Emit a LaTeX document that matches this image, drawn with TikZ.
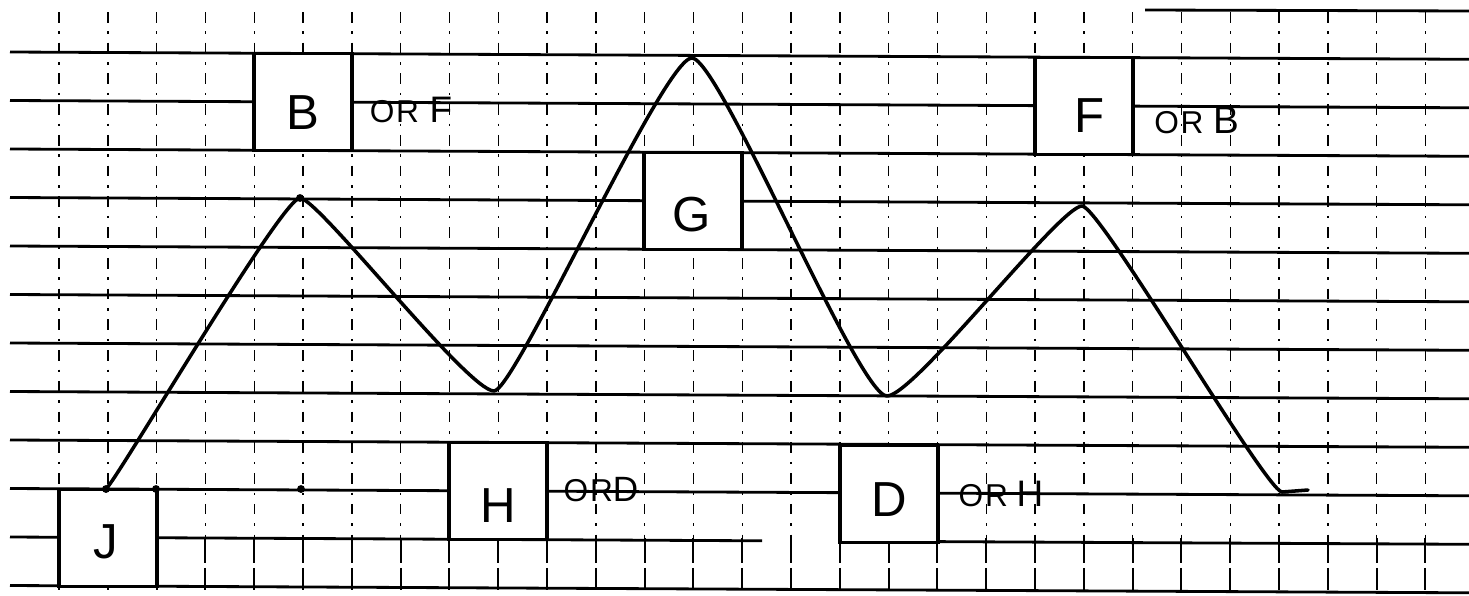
\documentclass[tikz,border=0pt]{standalone}
\usepackage{fontspec}
\setmainfont{Liberation Sans}
\usetikzlibrary{calc}
\begin{document}
\begin{tikzpicture}[x=0.02cm,y=-0.02cm,
  hline/.style={line width=1.6pt},
  vline/.style={line width=0.8pt, dash pattern=on 6pt off 5pt on 1.5pt off 5pt},
  vsolid/.style={line width=1.1pt, dash pattern=on 14pt off 3pt},
  box/.style={draw, fill=white, line width=2.2pt, minimum width=1.952cm, minimum height=1.94cm, inner sep=0pt},
  letter/.style={font=\fontsize{28}{30}\selectfont, inner sep=0pt},
  ortext/.style={font=\fontsize{18}{20}\selectfont, inner sep=0pt},
  wave/.style={line width=2pt, line join=round, line cap=round},
  dot/.style={circle, fill=black, inner sep=0pt, minimum size=4.5pt},
]
\useasboundingbox (0,0) rectangle (1469,595);
% vertical grid lines
\foreach \j in {0,...,28} {
  \pgfmathsetmacro{\xx}{59+48.8*\j}
  \draw[vline] (\xx,12) -- (\xx,538);
  \draw[vsolid] (\xx,538) -- (\xx,590);
}
% horizontal grid lines (slightly tilted)
\foreach \k in {0,...,9,11} {
  \pgfmathsetmacro{\ya}{52+48.5*\k}
  \pgfmathsetmacro{\yb}{\ya+7.3}
  \draw[hline] (10,\ya) -- (1469,\yb);
}
\draw[hline] (10,537) -- (762,540.8);
\draw[hline] (838,541.1) -- (1469,544.3);
\draw[hline] (1145,10) -- (1469,11);
% boxes
\node[box] (B) at (303,102) {};
\node[box] (F) at (1084,106) {};
\node[box] (G) at (693,201) {};
\node[box] (H) at (498,491) {};
\node[box] (D) at (889,494) {};
\node[box] (J) at (108,538) {};
% letters
\node[letter] (Bt) at ($(B.center)+(0,11)$) {B};
\node[letter] (Ft) at ($(F.center)+(6,10)$) {F};
\node[letter] (Gt) at ($(G.center)+(-1,14)$) {G};
\node[letter] (Ht) at ($(H.center)+(0,15)$) {H};
\node[letter] (Dt) at ($(D.center)+(0,6)$) {D};
\node[letter] (Jt) at ($(J.center)+(-2,4)$) {J};
% alternatives
\node[ortext] (orF) at (411,110) {O\hspace{1pt}R\hspace{6pt}{\fontsize{21}{23}\selectfont F}};
\node[ortext] (orB) at (1197,120) {O\hspace{1pt}R\hspace{6pt}{\fontsize{22}{24}\selectfont B}};
\node[ortext] (orD) at (601,490) {O\hspace{1pt}R{\fontsize{20}{22}\selectfont D}};
\node[ortext] (orH) at (1001,494) {O\hspace{1pt}R\hspace{5pt}{\fontsize{21}{23}\selectfont H}};
% wave
\coordinate (start) at (106,489);
\coordinate (p1) at (300,198);
\coordinate (t1) at (494,391);
\coordinate (p2) at (692,58);
\coordinate (t2) at (887,396);
\coordinate (p3) at (1082,206);
\coordinate (e) at (1282,492);
\coordinate (tail) at (1308,490);
\draw[wave] (start) .. controls (120,475) and (282,198) .. (p1)
  .. controls (318,198) and (468,391) .. (t1)
  .. controls (515,391) and (664,57) .. (p2)
  .. controls (720,59) and (858,396) .. (t2)
  .. controls (914,396) and (1060,206) .. (p3)
  .. controls (1100,206) and (1265,490) .. (e) -- (tail);
% dots
\node[dot] (d1) at (start) {};
\node[dot] (d2) at (156,489) {};
\node[dot] (d3) at (301,489) {};
\node[dot] (d4) at (p1) {};
\end{tikzpicture}
\end{document}
